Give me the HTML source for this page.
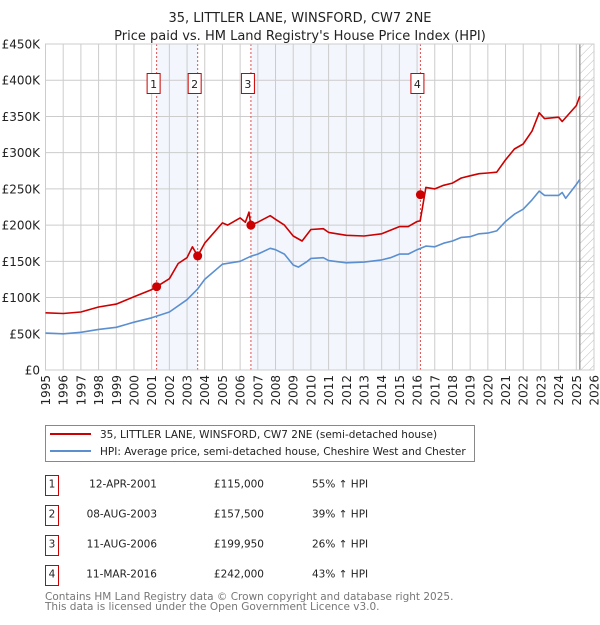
<!DOCTYPE html>
<html><head><meta charset="utf-8"><style>
body{margin:0;background:#fff;width:600px;height:620px;overflow:hidden;font-family:"Liberation Sans","DejaVu Sans",sans-serif}
svg text{font-family:"DejaVu Sans","Liberation Sans",sans-serif}
</style></head><body>
<svg id="c" width="600" height="620" xmlns="http://www.w3.org/2000/svg">
<defs><pattern id="hatch" width="6" height="6" patternUnits="userSpaceOnUse" patternTransform="rotate(45)"><line x1="0" y1="0" x2="0" y2="6" stroke="#bbb" stroke-width="1"/></pattern></defs>
<text x="300" y="22" text-anchor="middle" font-size="13" fill="#222">35, LITTLER LANE, WINSFORD, CW7 2NE</text>
<text x="300" y="40" text-anchor="middle" font-size="13" fill="#222">Price paid vs. HM Land Registry's House Price Index (HPI)</text>
<g id="plot"></g>
<g>
<rect x="45.5" y="425.5" width="429" height="36" fill="#fff" stroke="#888"/>
<line x1="50" y1="434" x2="91" y2="434" stroke="#cc0000" stroke-width="2"/>
<text x="100" y="438" font-size="10.5" fill="#222">35, LITTLER LANE, WINSFORD, CW7 2NE (semi-detached house)</text>
<line x1="50" y1="451" x2="91" y2="451" stroke="#5b8fd0" stroke-width="2"/>
<text x="100" y="455" font-size="10.5" fill="#222">HPI: Average price, semi-detached house, Cheshire West and Chester</text>
</g>
<g id="table" font-size="10.5" fill="#222"></g>
<text x="45" y="600" font-size="10.5" fill="#777">Contains HM Land Registry data © Crown copyright and database right 2025.</text>
<text x="45" y="610" font-size="10.5" fill="#777">This data is licensed under the Open Government Licence v3.0.</text>
</svg>
<script>
const yTicks=[0,50000,100000,150000,200000,250000,300000,350000,400000,450000];
const yTickLabels=["£0","£50K","£100K","£150K","£200K","£250K","£300K","£350K","£400K","£450K"];
const years=[1995,1996,1997,1998,1999,2000,2001,2002,2003,2004,2005,2006,2007,2008,2009,2010,2011,2012,2013,2014,2015,2016,2017,2018,2019,2020,2021,2022,2023,2024,2025,2026];
const hpiT=[1995,1996,1997,1998,1999,2000,2001,2002,2003,2003.6,2004,2005,2006,2006.6,2007,2007.7,2008,2008.5,2009,2009.3,2009.8,2010,2010.7,2011,2012,2013,2014,2014.5,2015,2015.5,2016,2016.5,2017,2017.5,2018,2018.5,2019,2019.5,2020,2020.5,2021,2021.5,2022,2022.5,2022.9,2023.2,2024,2024.2,2024.4,2025,2025.2];
const hpiV=[51,50,52,56,59,66,72,80,97,112,125,146,150,157,160,168,166,160,145,142,150,154,155,151,148,149,152,155,160,160,166,171,170,175,178,183,184,188,189,192,205,215,222,235,247,241,241,245,237,256,263];
const redT=[1995,1996,1997,1998,1999,2000,2001,2001.28,2002,2002.5,2003,2003.3,2003.6,2004,2005,2005.3,2006,2006.3,2006.5,2006.6,2007,2007.7,2008,2008.5,2009,2009.5,2010,2010.7,2011,2012,2013,2014,2015,2015.5,2016,2016.18,2016.5,2017,2017.5,2018,2018.5,2019,2019.5,2020,2020.5,2021,2021.5,2022,2022.5,2022.9,2023.2,2024,2024.2,2025,2025.2];
const redV=[79,78,80,87,91,101,111,115,126,147,155,170,157.5,175,203,200,210,204,218,200,204,213,208,200,185,178,194,195,190,186,185,188,198,198,205,206,252,250,255,258,265,268,271,272,273,290,305,312,330,355,347,349,343,365,378];
const saleT=[2001.28,2003.6,2006.61,2016.19];
const saleV=[115000,157500,199950,242000];
const saleLabels=["1","2","3","4"];
const saleDates=["12-APR-2001","08-AUG-2003","11-AUG-2006","11-MAR-2016"];
const salePrices=["£115,000","£157,500","£199,950","£242,000"];
const saleHpi=["55% ↑ HPI","39% ↑ HPI","26% ↑ HPI","43% ↑ HPI"];
const dataEnd=2025.2;

const NS="http://www.w3.org/2000/svg";
const X0=45.5,X1=594,Y0=370,Y1=44;
const xs=t=>X0+(t-1995)/(2026-1995)*(X1-X0);
const ys=v=>Y0-v/450000*(Y0-Y1);
function mk(tag,attrs,parent){const e=document.createElementNS(NS,tag);for(const k in attrs)e.setAttribute(k,attrs[k]);parent.appendChild(e);return e;}
const plot=document.getElementById('plot');
for(let i=0;i<saleT.length;i+=2){
 const r=mk('rect',{x:xs(saleT[i]),y:Y1,width:xs(saleT[i+1])-xs(saleT[i]),height:Y0-Y1,fill:'#eef3fc',opacity:0.7},plot);
 
 
}
const h=mk('rect',{x:xs(dataEnd),y:Y1,width:X1-xs(dataEnd),height:Y0-Y1,fill:'url(#hatch)'},plot);


yTicks.forEach((v,i)=>{
 const l=mk('line',{x1:X0,x2:X1,y1:ys(v),y2:ys(v),stroke:'#ccc','stroke-width':1},plot);
 
 
 const t=mk('text',{x:40,y:ys(v)+4.5,'text-anchor':'end','font-size':12,fill:'#222'},plot);
 t.textContent=yTickLabels[i];
 
 
});
years.forEach(y=>{
 const l=mk('line',{x1:xs(y),x2:xs(y),y1:Y1,y2:Y0,stroke:'#ccc','stroke-width':1},plot);
 
 
 const t=mk('text',{x:0,y:0,'text-anchor':'end','font-size':12,fill:'#222',transform:`translate(${xs(y)+4.5},375) rotate(-90)`},plot);
 t.textContent=y;
 
 
});
const el=mk('line',{x1:xs(dataEnd),x2:xs(dataEnd),y1:Y1,y2:Y0,stroke:'#888','stroke-width':1.2},plot);


saleT.forEach((t,i)=>{
 const l=mk('line',{x1:xs(t),x2:xs(t),y1:Y1,y2:Y0,stroke:'#e05050','stroke-width':1,'stroke-dasharray':'2,2'},plot);
 
 
 const b=mk('rect',{x:xs(t)-9.5,y:73.5,width:13,height:20,fill:'#fff',stroke:'#cc0000'},plot);
 
 
 const tx=mk('text',{x:xs(t)-3,y:88,'text-anchor':'middle','font-size':11,fill:'#222'},plot);
 tx.textContent=saleLabels[i];
 
 
});
const fr=mk('rect',{x:X0,y:Y1,width:X1-X0,height:Y0-Y1,fill:'none',stroke:'#ccc'},plot);


function path(T,V,col,name){
 const d=T.map((t,i)=>(i?'L':'M')+xs(t).toFixed(1)+','+ys(V[i]*1000).toFixed(1)).join('');
 const p=mk('path',{d:d,fill:'none',stroke:col,'stroke-width':1.6,'stroke-linejoin':'round'},plot);
 
 
}
path(hpiT,hpiV,'#5b8fd0','hpi-line');
path(redT,redV,'#cc0000','property-price-line');
saleT.forEach((t,i)=>{
 const c=mk('circle',{cx:xs(t),cy:ys(saleV[i]),r:4.5,fill:'#cc0000'},plot);
 
 
});
const tb=document.getElementById('table');
saleLabels.forEach((s,i)=>{
 const y=475.5+i*30;
 const b=mk('rect',{x:45.5,y:y,width:13,height:20,fill:'#fff',stroke:'#cc0000'},tb);
 
 
 const vals=[[s,52,'middle'],[saleDates[i],157,'end'],[salePrices[i],264,'end'],[saleHpi[i],312,'start']];
 vals.forEach(([txt,x,a],j)=>{
  const t=mk('text',{x:x,y:y+12,'text-anchor':a,'font-size':10.5,fill:'#222'},tb);
  t.textContent=txt;
  
  
 });
});
</script>
</body></html>
